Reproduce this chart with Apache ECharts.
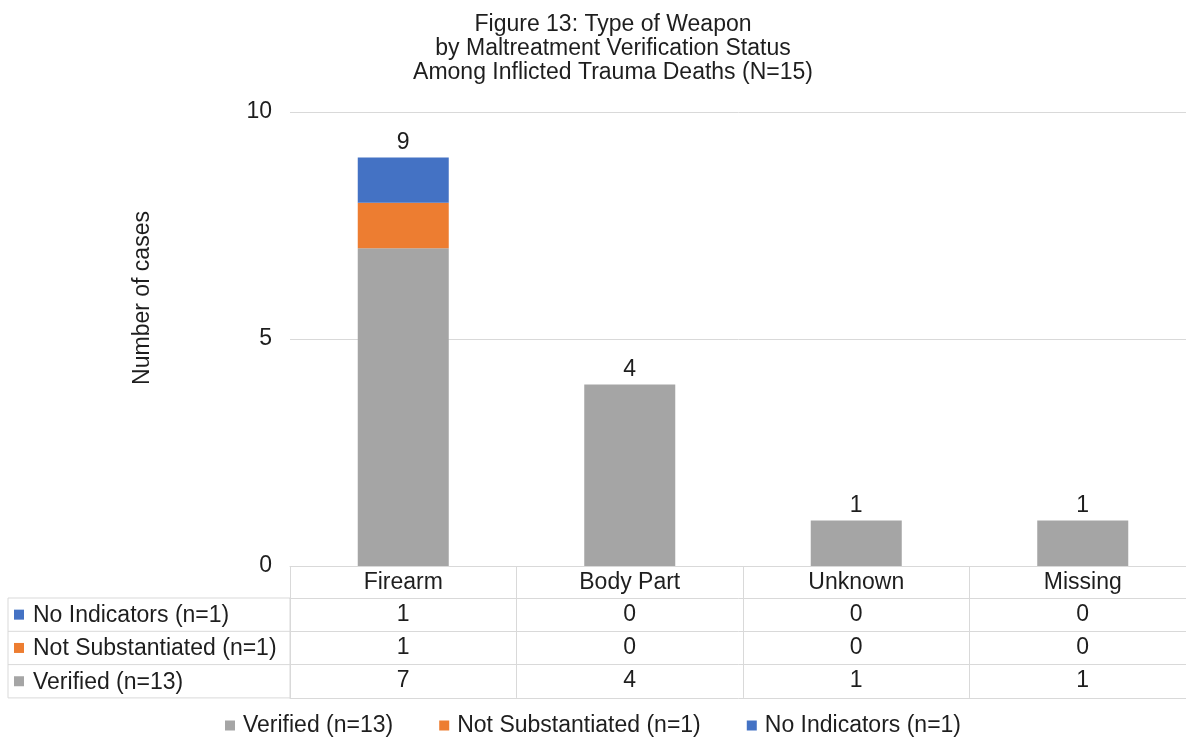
<!DOCTYPE html>
<html>
<head>
<meta charset="utf-8">
<script src="https://cdn.jsdelivr.net/npm/echarts@6/dist/echarts.min.js"></script>
<style>
  html, body { margin: 0; padding: 0; background: #fff; }
  #chart { width: 1186px; height: 737px; }
</style>
</head>
<body>
<div id="chart"></div>
<script>
// data
const categories = ['Firearm', 'Body Part', 'Unknown', 'Missing'];
const verified = [7, 4, 1, 1];
const notSubstantiated = [1, 0, 0, 0];
const noIndicators = [1, 0, 0, 0];
const seriesNames = ['Verified (n=13)', 'Not Substantiated (n=1)', 'No Indicators (n=1)'];
const yMin = 0, yMax = 10, yStep = 5;

const colors = ['#A5A5A5', '#ED7D31', '#4472C4'];
const txt = '#1E1E1E';
const lineCol = '#D9D9D9';
const font = '"Liberation Sans", Arial, sans-serif';
const fs = 23;

const seriesData = [verified, notSubstantiated, noIndicators];
const totals = categories.map((c, i) => seriesData.reduce((s, arr) => s + arr[i], 0));

// table rows, top to bottom (reverse of stack order)
const tableRows = [2, 1, 0];

// layout
const gridLeft = 290, gridTop = 112, gridW = 906, gridH = 454;
const rowH = 33.3;
const headH = 32;
const tableLeft = 8;

const chart = echarts.init(document.getElementById('chart'));

const xAxes = [{
  type: 'category',
  data: categories,
  position: 'bottom',
  axisLine: { show: true, lineStyle: { color: lineCol, width: 1 } },
  axisTick: { show: true, interval: 0, alignWithLabel: false, length: headH + rowH * 3, lineStyle: { color: lineCol } },
  axisLabel: { interval: 0, margin: 5, fontSize: fs, color: txt, fontFamily: font }
}];
tableRows.forEach((si, k) => {
  xAxes.push({
    type: 'category',
    data: categories,
    position: 'bottom',
    offset: headH + rowH * k,
    axisLine: { show: true, lineStyle: { color: lineCol, width: 1 } },
    axisTick: { show: false },
    axisLabel: {
      interval: 0, margin: 5, fontSize: fs, color: txt, fontFamily: font,
      formatter: (v, idx) => String(seriesData[si][idx])
    }
  });
});
xAxes.push({
  type: 'category',
  data: categories,
  position: 'bottom',
  offset: headH + rowH * 3,
  axisLine: { show: true, lineStyle: { color: lineCol, width: 1 } },
  axisTick: { show: false },
  axisLabel: { show: false }
});

const series = seriesData.map((arr, i) => ({
  name: seriesNames[i],
  type: 'bar',
  stack: 'all',
  barWidth: 91,
  data: arr,
  itemStyle: { color: colors[i] },
  emphasis: { disabled: true }
}));
series.push({
  name: 'Total',
  type: 'bar',
  stack: 'all',
  barWidth: 91,
  data: categories.map(() => 0),
  itemStyle: { color: 'transparent' },
  label: {
    show: true, position: 'top', distance: 3,
    fontSize: fs, color: txt, fontFamily: font,
    formatter: p => String(totals[p.dataIndex])
  }
});

// row label cells to the left of the table
const rowGraphics = [{
  type: 'rect',
  shape: { x: tableLeft, y: gridTop + gridH + headH, width: gridLeft - tableLeft, height: rowH * 3 },
  style: { fill: 'none', stroke: lineCol, lineWidth: 1 }
}];
tableRows.forEach((si, k) => {
  const top = gridTop + gridH + headH + rowH * k;
  if (k > 0) {
    rowGraphics.push({
      type: 'line',
      shape: { x1: tableLeft, y1: top, x2: gridLeft, y2: top },
      style: { stroke: lineCol, lineWidth: 1 }
    });
  }
  rowGraphics.push({
    type: 'rect',
    shape: { x: 14, y: top + rowH / 2 - 5, width: 10, height: 10 },
    style: { fill: colors[si] }
  });
  rowGraphics.push({
    type: 'text',
    x: 33, y: top + rowH / 2 + 1,
    style: { text: seriesNames[si], fontSize: fs, fill: txt, fontFamily: font, textAlign: 'left', textVerticalAlign: 'middle' }
  });
});
rowGraphics.push({
  type: 'text',
  x: 143, y: 298,
  rotation: Math.PI / 2,
  style: { text: 'Number of cases', fontSize: fs, fill: txt, fontFamily: font, textAlign: 'center', textVerticalAlign: 'middle' }
});

chart.setOption({
  animation: false,
  title: {
    text: 'Figure 13: Type of Weapon\nby Maltreatment Verification Status\nAmong Inflicted Trauma Deaths (N=15)',
    left: 608,
    textAlign: 'center',
    top: 8,
    textStyle: { fontSize: fs, fontWeight: 'normal', color: txt, fontFamily: font, lineHeight: 24 }
  },
  legend: {
    data: seriesNames,
    top: 709,
    left: 'center',
    itemWidth: 10,
    itemHeight: 10,
    itemGap: 46,
    icon: 'rect',
    textStyle: { fontSize: fs, color: txt, fontFamily: font, padding: [0, 0, 0, 3] },
    selectedMode: false
  },
  grid: { left: gridLeft, top: gridTop, width: gridW, height: gridH, outerBoundsMode: 'none' },
  xAxis: xAxes,
  yAxis: {
    type: 'value',
    min: yMin, max: yMax, interval: yStep,
    axisLine: { show: false },
    axisTick: { show: false },
    axisLabel: { margin: 18, fontSize: fs, color: txt, fontFamily: font },
    splitLine: { lineStyle: { color: lineCol, width: 1 } }
  },
  series: series,
  graphic: rowGraphics
});
</script>
</body>
</html>
